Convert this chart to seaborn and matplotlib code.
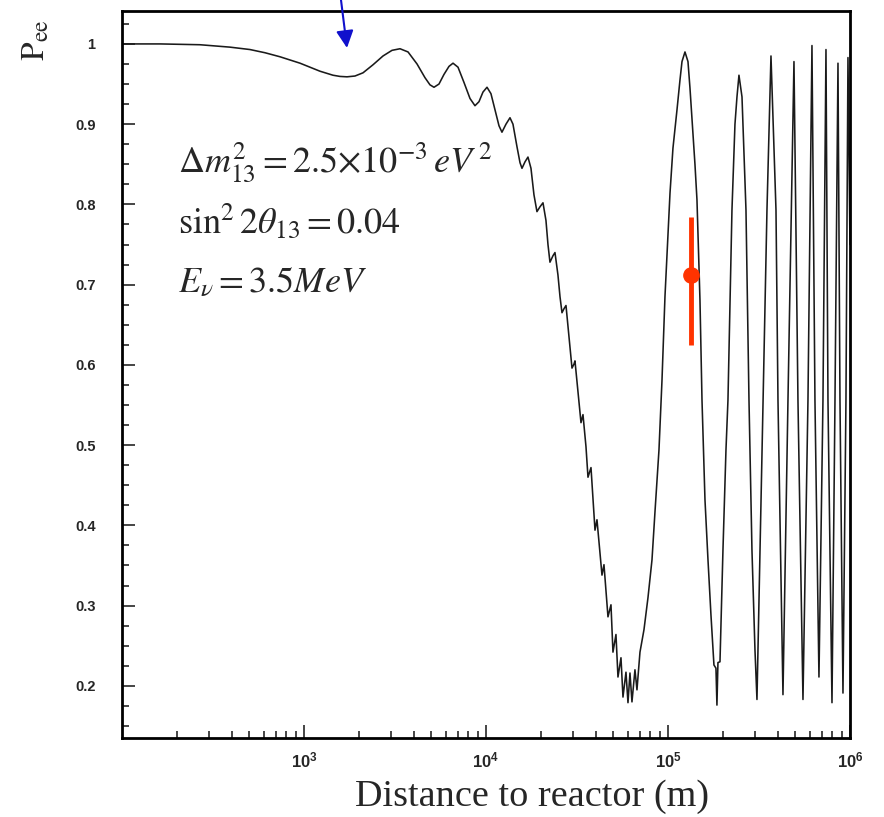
import numpy as np
import pandas as pd
import matplotlib
matplotlib.use("Agg")
import matplotlib.pyplot as plt
import seaborn as sns
from matplotlib.ticker import FixedLocator, LogLocator, MultipleLocator, FuncFormatter, NullFormatter

# survival probability (distance in m)
dist_m = [100, 162, 268, 392, 505, 611, 738, 838, 951, 1079,
          1224, 1443, 1577, 1723, 1906, 2110, 2394, 2718, 3045, 3370,
          3730, 4180, 4620, 4924, 5180, 5518, 5878, 6262, 6590, 7020,
          7571, 8169, 8700, 9153, 9627, 10130, 10650, 11210, 11790, 12240,
          12880, 13550, 14070, 14800, 15380, 15770, 16380, 17010, 17670, 18350,
          19060, 19800, 20570, 21360, 21910, 22470, 23340, 23940, 24860, 25510,
          26160, 26830, 27520, 28580, 29690, 30450, 30830, 32030, 33270, 34120,
          35440, 36350, 37760, 39720, 40730, 43390, 44500, 46810, 48620, 49860,
          51790, 53120, 55180, 56590, 58780, 60290, 61830, 63410, 65860, 67550,
          70170, 73820, 77660, 81690, 84850, 89240, 92680, 96270, 102600, 106500,
          112100, 116400, 119400, 124000, 128800, 132100, 137200, 140700, 144300, 149900,
          153800, 159700, 165900, 172300, 178900, 183500, 185800, 188200, 193100, 200500,
          208300, 213600, 224700, 233400, 239400, 245500, 255100, 268300, 278700, 289400,
          300600, 308300, 320300, 332700, 349900, 368100, 392200, 402200, 428400, 456400,
          492400, 517900, 551800, 587800, 618300, 642100, 675500, 710600, 738200, 757100,
          796500, 827300, 859300, 881300, 915300, 950600, 975000, 1000000]
pee = [1.000, 1.000, 0.999, 0.996, 0.993, 0.989, 0.984, 0.980, 0.976, 0.971,
       0.966, 0.961, 0.9595, 0.959, 0.960, 0.964, 0.974, 0.985, 0.992, 0.994,
       0.990, 0.975, 0.958, 0.949, 0.946, 0.950, 0.962, 0.972, 0.976, 0.971,
       0.952, 0.932, 0.923, 0.928, 0.940, 0.946, 0.938, 0.918, 0.898, 0.890,
       0.900, 0.908, 0.900, 0.872, 0.852, 0.845, 0.853, 0.859, 0.845, 0.812,
       0.791, 0.797, 0.802, 0.780, 0.750, 0.728, 0.736, 0.740, 0.712, 0.685,
       0.665, 0.670, 0.674, 0.635, 0.596, 0.601, 0.605, 0.566, 0.528, 0.538,
       0.498, 0.460, 0.472, 0.394, 0.407, 0.338, 0.351, 0.286, 0.301, 0.242,
       0.264, 0.211, 0.235, 0.186, 0.217, 0.179, 0.216, 0.180, 0.220, 0.195,
       0.242, 0.270, 0.310, 0.357, 0.417, 0.494, 0.580, 0.685, 0.814, 0.870,
       0.918, 0.955, 0.978, 0.990, 0.978, 0.945, 0.889, 0.850, 0.806, 0.681,
       0.556, 0.432, 0.357, 0.288, 0.226, 0.222, 0.176, 0.229, 0.230, 0.369,
       0.494, 0.556, 0.793, 0.900, 0.934, 0.961, 0.934, 0.793, 0.556, 0.369,
       0.245, 0.183, 0.369, 0.556, 0.793, 0.985, 0.793, 0.556, 0.189, 0.556,
       0.978, 0.556, 0.183, 0.556, 0.998, 0.556, 0.211, 0.556, 0.993, 0.556,
       0.179, 0.556, 0.976, 0.556, 0.191, 0.556, 0.983, 0.750]

# measured point with error bar
meas_dist = [134000]
meas_pee = [0.712]
meas_err_lo = [0.087]
meas_err_hi = [0.072]

# arrow marks the first dip
arrow_dist = 1723
arrow_pee = 0.995

param_lines = [r"$\Delta m_{13}^{2} = 2.5{\times}10^{-3}\,eV^{\,2}$",
               r"$\sin^{2}2\theta_{13} = 0.04$",
               r"$E_{\nu} = 3.5MeV$"]

sns.set_style("ticks")
plt.rcParams["font.family"] = ["Liberation Sans", "DejaVu Sans"]
plt.rcParams["mathtext.fontset"] = "stix"

fig = plt.figure(figsize=(8.84, 8.17), dpi=100)
ax = fig.add_axes([0.138, 0.0967, 0.8235, 0.8898])

df = pd.DataFrame({"dist": dist_m, "pee": pee})
sns.lineplot(data=df, x="dist", y="pee", sort=False, estimator=None,
             color="#1a1a1a", lw=1.15, ax=ax)

ax.errorbar(meas_dist, meas_pee, yerr=[meas_err_lo, meas_err_hi], fmt="o",
            color="#ff3300", ms=11, elinewidth=3.5, capsize=0, zorder=5)

ax.set_xscale("log")
ax.set_xlim(100, 1e6)
ax.set_ylim(0.135, 1.041)
ax.set_xlabel("")
ax.set_ylabel("")

ax.xaxis.set_major_locator(FixedLocator([1e3, 1e4, 1e5, 1e6]))
ax.xaxis.set_minor_locator(LogLocator(base=10, subs=np.arange(2, 10), numticks=20))
ax.xaxis.set_minor_formatter(NullFormatter())
ax.yaxis.set_major_locator(MultipleLocator(0.1))
ax.yaxis.set_minor_locator(MultipleLocator(0.025))
ax.yaxis.set_major_formatter(FuncFormatter(lambda v, p: f"{v:g}"))

ax.tick_params(which="both", direction="in", top=False, right=False, width=1.2)
ax.tick_params(which="major", length=9.5)
ax.tick_params(which="minor", length=5)
ax.tick_params(axis="y", which="major", pad=19)
ax.tick_params(axis="x", which="major", pad=9)
for lab in ax.get_yticklabels():
    lab.set_fontsize(10.5)
    lab.set_fontweight("bold")
for lab in ax.get_xticklabels():
    lab.set_fontsize(12)
    lab.set_fontweight("bold")

for sp in ax.spines.values():
    sp.set_linewidth(2)
    sp.set_color("black")

ax.annotate("", xy=(arrow_dist, arrow_pee), xycoords="data",
            xytext=(341 / 884, 1.0), textcoords="figure fraction",
            arrowprops=dict(arrowstyle="-|>", color="#1010cc", lw=1.5,
                            mutation_scale=26, shrinkA=0, shrinkB=0),
            annotation_clip=False)

for txt, yb in zip(param_lines, [0.7895, 0.7148, 0.6426]):
    fig.text(0.2014, yb, txt, fontsize=26, va="baseline", ha="left")

fig.text(532 / 884, 1 - 797 / 817, "Distance to reactor (m)",
         fontfamily="Liberation Serif", fontsize=27.5, ha="center", va="center")
fig.text(36 / 884, 1 - 40 / 817, r"$\mathrm{P}_{\mathrm{ee}}$",
         fontsize=24, rotation=90, ha="center", va="center")

fig.savefig("out.png", dpi=100)
